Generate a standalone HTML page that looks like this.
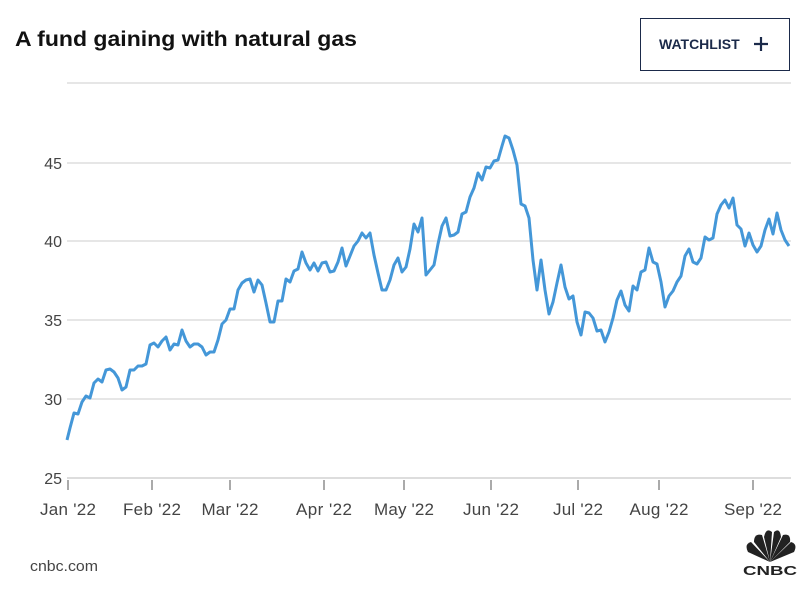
<!DOCTYPE html>
<html><head><meta charset="utf-8"><style>
body{margin:0;background:#fff;width:811px;height:601px;overflow:hidden;font-family:"Liberation Sans",sans-serif}
</style></head><body>
<svg width="811" height="601" xmlns="http://www.w3.org/2000/svg" font-family="Liberation Sans, sans-serif">
<text x="15" y="46" font-size="21" font-weight="bold" fill="#111" textLength="342" lengthAdjust="spacingAndGlyphs">A fund gaining with natural gas</text>
<rect x="640.5" y="18.5" width="149" height="52" fill="#fff" stroke="#1b2a4a" stroke-width="1"/>
<text x="659" y="49" font-size="14" font-weight="bold" fill="#1b2a4a">WATCHLIST</text>
<path d="M754 44h14M761 37v14" stroke="#1b2a4a" stroke-width="2.2"/>
<g stroke="#d8d8d8" stroke-width="1.2">
<line x1="67" x2="791" y1="83" y2="83"/><line x1="67" x2="791" y1="163" y2="163"/>
<line x1="67" x2="791" y1="241" y2="241"/><line x1="67" x2="791" y1="320" y2="320"/>
<line x1="67" x2="791" y1="399" y2="399"/>
</g>
<line x1="67" x2="791" y1="478" y2="478" stroke="#bbb" stroke-width="1"/>
<g font-size="16" fill="#444" text-anchor="end">
<text x="62" y="169">45</text><text x="62" y="247">40</text><text x="62" y="326">35</text><text x="62" y="405">30</text><text x="62" y="484">25</text>
</g>
<g stroke="#555" stroke-width="1">
<line x1="68" x2="68" y1="480" y2="490"/><line x1="152" x2="152" y1="480" y2="490"/><line x1="230" x2="230" y1="480" y2="490"/><line x1="324" x2="324" y1="480" y2="490"/><line x1="404" x2="404" y1="480" y2="490"/><line x1="491" x2="491" y1="480" y2="490"/><line x1="578" x2="578" y1="480" y2="490"/><line x1="659" x2="659" y1="480" y2="490"/><line x1="753" x2="753" y1="480" y2="490"/>
</g>
<g font-size="17" fill="#444" text-anchor="middle" lengthAdjust="spacingAndGlyphs">
<text x="68" y="515" textLength="56">Jan '22</text><text x="152" y="515" textLength="58">Feb '22</text><text x="230" y="515" textLength="57">Mar '22</text><text x="324" y="515" textLength="56">Apr '22</text><text x="404" y="515" textLength="60">May '22</text><text x="491" y="515" textLength="56">Jun '22</text><text x="578" y="515" textLength="50">Jul '22</text><text x="659" y="515" textLength="59">Aug '22</text><text x="753" y="515" textLength="58">Sep '22</text>
</g>
<polyline fill="none" stroke="#4497d8" stroke-width="3" stroke-linejoin="round" points="67,440 70,428 74,413 78,414 82,402 86,396 90,398 94,383 98,379 102,382 106,370 110,369 114,372 118,378 122,390 126,387 130,370 134,370 138,366 142,366 146,364 150,345 154,343 158,347 162,341 166,337 170,350 174,344 178,345 182,330 186,341 190,347 194,344 198,344 202,347 206,355 210,352 214,352 218,340 222,324 226,320 230,309 234,309 238,290 242,283 246,280 250,279 254,292 258,280 262,285 266,303 270,322 274,322 278,301 282,301 286,279 290,282 294,271 298,269 302,252 306,263 310,270 314,263 318,271 322,263 326,262 330,272 334,271 338,262 342,248 346,266 350,256 354,246 358,241 362,233 366,238 370,233 374,255 378,273 382,290 386,290 390,280 394,265 398,258 402,272 406,267 410,249 414,224 418,232 422,218 426,275 430,270 434,265 438,244 442,226 446,218 450,236 454,235 458,232 462,214 466,212 470,197 474,188 478,173 482,180 486,167 490,168 494,161 498,160 502,146 505,136 509,138 513,150 517,165 521,204 525,206 529,218 533,260 537,290 541,260 545,290 549,314 553,302 557,283 561,265 565,287 569,299 573,296 577,322 581,335 585,312 589,313 593,318 597,331 601,330 605,342 609,332 613,318 617,300 621,291 625,305 629,311 633,286 637,290 641,272 645,270 649,248 653,262 657,264 661,282 665,307 669,296 673,291 677,282 681,276 685,256 689,249 693,262 697,264 701,258 705,237 709,240 713,238 717,214 721,205 725,200 729,208 733,198 737,225 741,229 745,246 749,233 753,245 757,252 761,246 765,230 769,219 773,234 777,213 781,230 785,240 789,246"/>
<text x="30" y="571" font-size="15" fill="#444" textLength="68" lengthAdjust="spacingAndGlyphs">cnbc.com</text>
<g fill="#222">
<path d="M770 562 L748 552 Q744 544 751 542 Z"/>
<path d="M770 562 L754 542 Q754 533 762 535 Z"/>
<path d="M770 562 L764 537 Q766 527 772 532 Z"/>
<path d="M770 562 L774 532 Q780 527 781 537 Z"/>
<path d="M770 562 L783 535 Q791 533 790 542 Z"/>
<path d="M770 562 L791 542 Q798 544 794 552 Z"/>
<text x="770" y="575" font-size="13" font-weight="bold" text-anchor="middle" textLength="54" lengthAdjust="spacingAndGlyphs">CNBC</text>
</g>
</svg>
</body></html>
